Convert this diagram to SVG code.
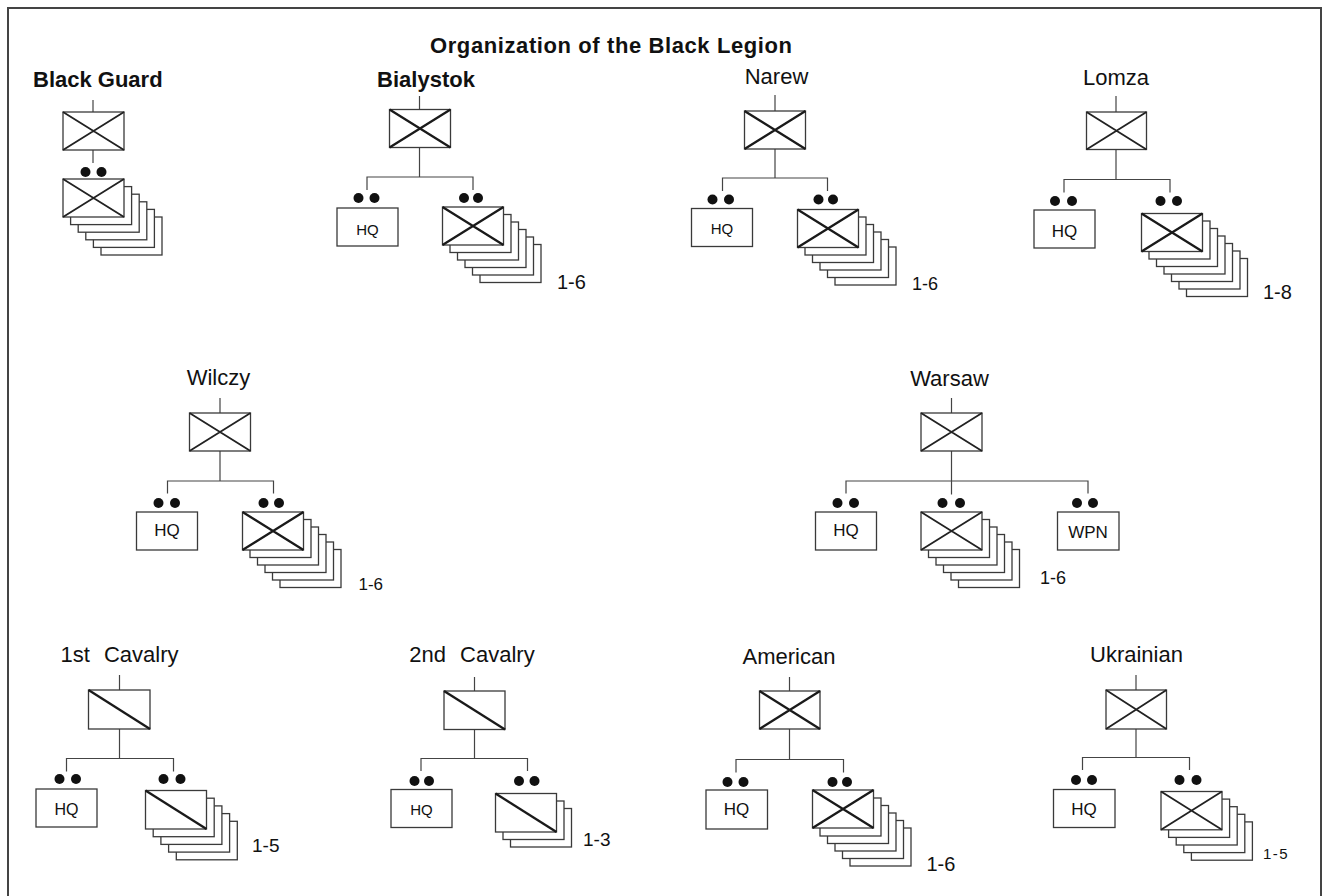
<svg xmlns="http://www.w3.org/2000/svg" width="1325" height="896" viewBox="0 0 1325 896">
<style>
.bg{fill:#fff}
.frame{fill:none;stroke:#444;stroke-width:2}
.box{fill:#fff;stroke:#3a3a3a;stroke-width:1.3}
.diag{fill:none;stroke:#222;stroke-width:1.8}
.diag2{fill:none;stroke:#1a1a1a;stroke-width:2.3}
.ln{fill:none;stroke:#444;stroke-width:1.2}
.dot{fill:#111}
.t{font-family:"Liberation Sans",Arial,sans-serif;fill:#111}
.lbl{font-size:22px;text-anchor:middle}
.b{font-weight:bold}
.hq{text-anchor:middle}
</style>
<rect class="bg" x="0" y="0" width="1325" height="896"/>
<path class="frame" d="M8,896 L8,8 L1321,8 L1321,896"/>
<text class="t b" x="611" y="53" font-size="22" text-anchor="middle" textLength="362">Organization of the Black Legion</text>

<g id="connectors">
  <path class="ln" d="M93,100 V112 M93,150 V163"/>
  <path class="ln" d="M419.5,96 V109.5 M419.5,147.5 V177 M367,190 V177 H473 V190"/>
  <path class="ln" d="M775,95 V111 M775,149 V178 M722.5,191 V178 H827.5 V191"/>
  <path class="ln" d="M1116,96 V112 M1116,149.5 V179.5 M1064,192.5 V179.5 H1170 V192.5"/>
  <path class="ln" d="M220,398 V413 M220,451 V481 M167.5,493.5 V481 H273.5 V493.5"/>
  <path class="ln" d="M951.5,398 V413 M951.5,451 V494.5 M846,493.5 V481 H1088 V493.5"/>
  <path class="ln" d="M119.5,675 V690 M119.5,729 V758.5 M66.5,771.5 V758.5 H173.5 V771.5"/>
  <path class="ln" d="M474.5,677 V691 M474.5,729.5 V758.5 M421,771 V758.5 H527.5 V771"/>
  <path class="ln" d="M789.5,677 V691 M789.5,729 V759.5 M736,772.5 V759.5 H843.5 V772.5"/>
  <path class="ln" d="M1136,675 V690 M1136,729 V757.5 M1082.5,770 V757.5 H1189.5 V770"/>
</g>

<g id="black-guard">
  <text class="t b" x="33" y="87" font-size="22">Black Guard</text>
  <rect class="box" x="63" y="112" width="61" height="38"/>
  <path class="diag" d="M63,112 L124,150 M124,112 L63,150"/>
  <circle class="dot" cx="85.5" cy="172" r="5"/><circle class="dot" cx="101.5" cy="172" r="5"/>
  <rect class="box" x="101" y="217" width="61" height="38"/>
  <rect class="box" x="93.4" y="209.4" width="61" height="38"/>
  <rect class="box" x="85.8" y="201.8" width="61" height="38"/>
  <rect class="box" x="78.2" y="194.2" width="61" height="38"/>
  <rect class="box" x="70.6" y="186.6" width="61" height="38"/>
  <rect class="box" x="63" y="179" width="61" height="38"/>
  <path class="diag" d="M63,179 L124,217 M124,179 L63,217"/>
</g>

<g id="bialystok">
  <text class="t lbl b" x="426" y="87">Bialystok</text>
  <rect class="box" x="389.5" y="109.5" width="61" height="38"/>
  <path class="diag2" d="M389.5,109.5 L450.5,147.5 M450.5,109.5 L389.5,147.5"/>
  <circle class="dot" cx="358.5" cy="198" r="5"/><circle class="dot" cx="374.5" cy="198" r="5"/>
  <circle class="dot" cx="464" cy="198" r="5"/><circle class="dot" cx="478" cy="198" r="5"/>
  <rect class="box" x="337" y="208" width="61" height="38"/>
  <text class="t hq" x="367.5" y="235" font-size="15">HQ</text>
  <rect class="box" x="480" y="244.5" width="61" height="38"/>
  <rect class="box" x="472.5" y="237" width="61" height="38"/>
  <rect class="box" x="465" y="229.5" width="61" height="38"/>
  <rect class="box" x="457.5" y="222" width="61" height="38"/>
  <rect class="box" x="450" y="214.5" width="61" height="38"/>
  <rect class="box" x="442.5" y="207" width="61" height="38"/>
  <path class="diag2" d="M442.5,207 L503.5,245 M503.5,207 L442.5,245"/>
  <text class="t" x="557" y="289" font-size="20">1-6</text>
</g>

<g id="narew">
  <text class="t lbl" x="776.5" y="83.5">Narew</text>
  <rect class="box" x="744.5" y="111" width="61" height="38"/>
  <path class="diag2" d="M744.5,111 L805.5,149 M805.5,111 L744.5,149"/>
  <circle class="dot" cx="712.5" cy="199.5" r="5"/><circle class="dot" cx="729" cy="199.5" r="5"/>
  <circle class="dot" cx="818.5" cy="199.5" r="5"/><circle class="dot" cx="833" cy="199.5" r="5"/>
  <rect class="box" x="691.5" y="208.5" width="61" height="38"/>
  <text class="t hq" x="722" y="234" font-size="15">HQ</text>
  <rect class="box" x="835" y="247" width="61" height="38"/>
  <rect class="box" x="827.5" y="239.5" width="61" height="38"/>
  <rect class="box" x="820" y="232" width="61" height="38"/>
  <rect class="box" x="812.5" y="224.5" width="61" height="38"/>
  <rect class="box" x="805" y="217" width="61" height="38"/>
  <rect class="box" x="797.5" y="209.5" width="61" height="38"/>
  <path class="diag2" d="M797.5,209.5 L858.5,247.5 M858.5,209.5 L797.5,247.5"/>
  <text class="t" x="912" y="290" font-size="18">1-6</text>
</g>

<g id="lomza">
  <text class="t lbl" x="1116" y="85">Lomza</text>
  <rect class="box" x="1086.5" y="112" width="60" height="37.5"/>
  <path class="diag" d="M1086.5,112 L1146.5,149.5 M1146.5,112 L1086.5,149.5"/>
  <circle class="dot" cx="1055" cy="201" r="5"/><circle class="dot" cx="1072" cy="201" r="5"/>
  <circle class="dot" cx="1160.5" cy="201" r="5"/><circle class="dot" cx="1177" cy="201" r="5"/>
  <rect class="box" x="1034" y="210" width="61" height="38"/>
  <text class="t hq" x="1064.5" y="236.5" font-size="17">HQ</text>
  <rect class="box" x="1186.5" y="258.5" width="61" height="38"/>
  <rect class="box" x="1179" y="251" width="61" height="38"/>
  <rect class="box" x="1171.5" y="243.5" width="61" height="38"/>
  <rect class="box" x="1164" y="236" width="61" height="38"/>
  <rect class="box" x="1156.5" y="228.5" width="61" height="38"/>
  <rect class="box" x="1149" y="221" width="61" height="38"/>
  <rect class="box" x="1141.5" y="213.5" width="61" height="38"/>
  <path class="diag2" d="M1141.5,213.5 L1202.5,251.5 M1202.5,213.5 L1141.5,251.5"/>
  <text class="t" x="1263" y="299" font-size="20">1-8</text>
</g>

<g id="wilczy">
  <text class="t lbl" x="218.5" y="385">Wilczy</text>
  <rect class="box" x="189.5" y="413" width="61" height="38"/>
  <path class="diag" d="M189.5,413 L250.5,451 M250.5,413 L189.5,451"/>
  <circle class="dot" cx="158.5" cy="503" r="5"/><circle class="dot" cx="175" cy="503" r="5"/>
  <circle class="dot" cx="263.5" cy="503" r="5"/><circle class="dot" cx="279" cy="503" r="5"/>
  <rect class="box" x="136.5" y="512" width="61" height="38"/>
  <text class="t hq" x="167" y="535.5" font-size="17">HQ</text>
  <rect class="box" x="280" y="549.5" width="61" height="38"/>
  <rect class="box" x="272.5" y="542" width="61" height="38"/>
  <rect class="box" x="265" y="534.5" width="61" height="38"/>
  <rect class="box" x="257.5" y="527" width="61" height="38"/>
  <rect class="box" x="250" y="519.5" width="61" height="38"/>
  <rect class="box" x="242.5" y="512" width="61" height="38"/>
  <path class="diag2" d="M242.5,512 L303.5,550 M303.5,512 L242.5,550"/>
  <text class="t" x="358.5" y="590" font-size="17">1-6</text>
</g>

<g id="warsaw">
  <text class="t lbl" x="949.5" y="386">Warsaw</text>
  <rect class="box" x="921" y="413" width="61" height="38"/>
  <path class="diag" d="M921,413 L982,451 M982,413 L921,451"/>
  <circle class="dot" cx="837.5" cy="503" r="5"/><circle class="dot" cx="854" cy="503" r="5"/>
  <circle class="dot" cx="942.5" cy="503" r="5"/><circle class="dot" cx="960" cy="503" r="5"/>
  <circle class="dot" cx="1077" cy="503" r="5"/><circle class="dot" cx="1093" cy="503" r="5"/>
  <rect class="box" x="815.5" y="512" width="61" height="38"/>
  <text class="t hq" x="846" y="536" font-size="17">HQ</text>
  <rect class="box" x="958.5" y="549.5" width="61" height="38"/>
  <rect class="box" x="951" y="542" width="61" height="38"/>
  <rect class="box" x="943.5" y="534.5" width="61" height="38"/>
  <rect class="box" x="936" y="527" width="61" height="38"/>
  <rect class="box" x="928.5" y="519.5" width="61" height="38"/>
  <rect class="box" x="921" y="512" width="61" height="38"/>
  <path class="diag" d="M921,512 L982,550 M982,512 L921,550"/>
  <rect class="box" x="1057.5" y="512" width="61.5" height="38"/>
  <text class="t hq" x="1088" y="538" font-size="17">WPN</text>
  <text class="t" x="1040" y="584" font-size="18">1-6</text>
</g>

<g id="first-cavalry">
  <text class="t lbl" x="119.5" y="662" word-spacing="8">1st Cavalry</text>
  <rect class="box" x="88.5" y="690" width="61.5" height="39"/>
  <path class="diag2" d="M88.5,690 L150,729"/>
  <circle class="dot" cx="59.5" cy="779" r="5"/><circle class="dot" cx="76" cy="779" r="5"/>
  <circle class="dot" cx="163.5" cy="779" r="5"/><circle class="dot" cx="180.5" cy="779" r="5"/>
  <rect class="box" x="36" y="789" width="61" height="38"/>
  <text class="t hq" x="66.5" y="814.5" font-size="16">HQ</text>
  <rect class="box" x="176.3" y="821.3" width="61" height="38.5"/>
  <rect class="box" x="168.6" y="813.6" width="61" height="38.5"/>
  <rect class="box" x="160.9" y="805.9" width="61" height="38.5"/>
  <rect class="box" x="153.2" y="798.2" width="61" height="38.5"/>
  <rect class="box" x="145.5" y="790.5" width="61" height="38.5"/>
  <path class="diag2" d="M145.5,790.5 L206.5,829"/>
  <text class="t" x="252" y="852" font-size="19">1-5</text>
</g>

<g id="second-cavalry">
  <text class="t lbl" x="472" y="661.5" word-spacing="8">2nd Cavalry</text>
  <rect class="box" x="444" y="691" width="61" height="38.5"/>
  <path class="diag2" d="M444,691 L505,729.5"/>
  <circle class="dot" cx="414.5" cy="781" r="5"/><circle class="dot" cx="429" cy="781" r="5"/>
  <circle class="dot" cx="519" cy="781" r="5"/><circle class="dot" cx="534.5" cy="781" r="5"/>
  <rect class="box" x="391" y="789.5" width="61" height="38"/>
  <text class="t hq" x="421.5" y="814.5" font-size="15">HQ</text>
  <rect class="box" x="510.5" y="808.5" width="61" height="38.5"/>
  <rect class="box" x="503" y="801" width="61" height="38.5"/>
  <rect class="box" x="495.5" y="793.5" width="61" height="38.5"/>
  <path class="diag2" d="M495.5,793.5 L556.5,832"/>
  <text class="t" x="583" y="846" font-size="19">1-3</text>
</g>

<g id="american">
  <text class="t lbl" x="789" y="664">American</text>
  <rect class="box" x="759.5" y="691" width="60.5" height="38"/>
  <path class="diag2" d="M759.5,691 L820,729 M820,691 L759.5,729"/>
  <circle class="dot" cx="727.5" cy="782" r="5"/><circle class="dot" cx="743.5" cy="782" r="5"/>
  <circle class="dot" cx="832.5" cy="782" r="5"/><circle class="dot" cx="847" cy="782" r="5"/>
  <rect class="box" x="706" y="790" width="61.5" height="39"/>
  <text class="t hq" x="736.5" y="815" font-size="17">HQ</text>
  <rect class="box" x="850" y="828" width="61" height="38"/>
  <rect class="box" x="842.5" y="820.5" width="61" height="38"/>
  <rect class="box" x="835" y="813" width="61" height="38"/>
  <rect class="box" x="827.5" y="805.5" width="61" height="38"/>
  <rect class="box" x="820" y="798" width="61" height="38"/>
  <rect class="box" x="812.5" y="790" width="61" height="38"/>
  <path class="diag2" d="M812.5,790 L873.5,828 M873.5,790 L812.5,828"/>
  <text class="t" x="926.5" y="870.5" font-size="20">1-6</text>
</g>

<g id="ukrainian">
  <text class="t lbl" x="1136.5" y="661.5">Ukrainian</text>
  <rect class="box" x="1106" y="690" width="60.5" height="39"/>
  <path class="diag" d="M1106,690 L1166.5,729 M1166.5,690 L1106,729"/>
  <circle class="dot" cx="1076" cy="780" r="5"/><circle class="dot" cx="1092" cy="780" r="5"/>
  <circle class="dot" cx="1179.5" cy="780" r="5"/><circle class="dot" cx="1196.5" cy="780" r="5"/>
  <rect class="box" x="1053.5" y="789.5" width="61.5" height="38"/>
  <text class="t hq" x="1084" y="814.5" font-size="17">HQ</text>
  <rect class="box" x="1191.4" y="821.9" width="61" height="38.3"/>
  <rect class="box" x="1183.8" y="814.3" width="61" height="38.3"/>
  <rect class="box" x="1176.2" y="806.7" width="61" height="38.3"/>
  <rect class="box" x="1168.6" y="799.1" width="61" height="38.3"/>
  <rect class="box" x="1161" y="791.5" width="61" height="38.3"/>
  <path class="diag" d="M1161,791.5 L1222,829.8 M1222,791.5 L1161,829.8"/>
  <text class="t" x="1263" y="858.5" font-size="15" letter-spacing="1.5">1-5</text>
</g>
</svg>
